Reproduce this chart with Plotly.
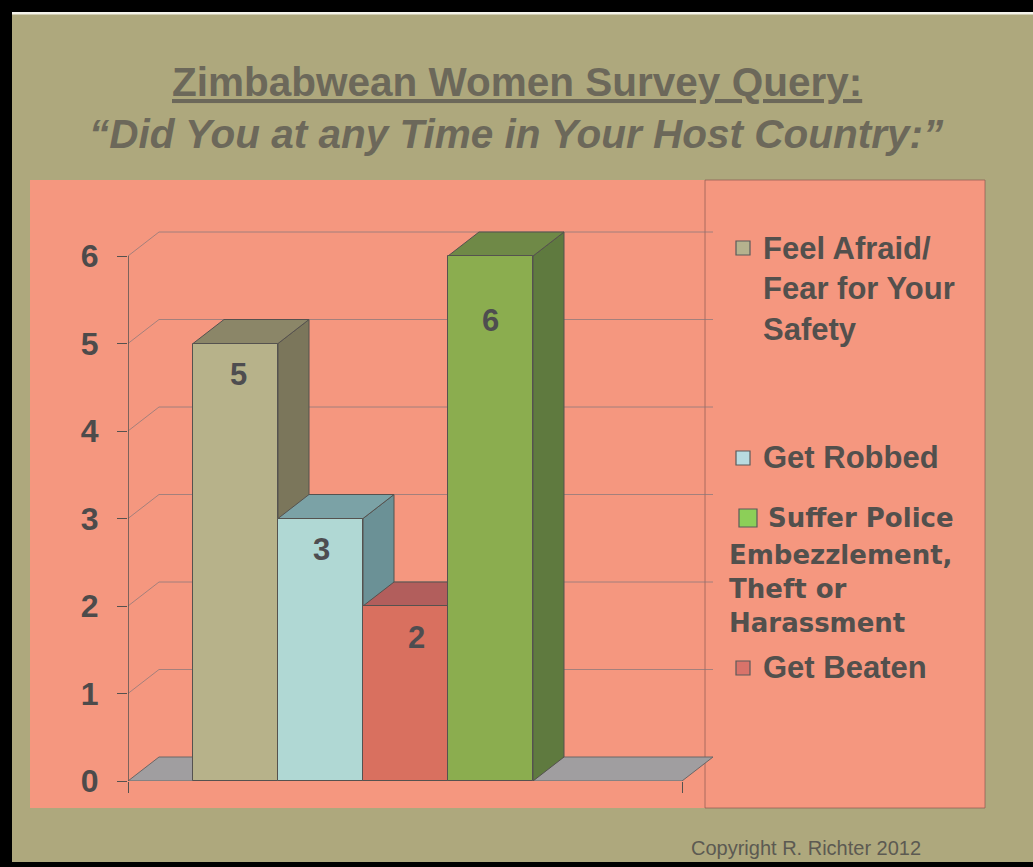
import plotly.graph_objects as go

# ---------------- data ----------------
CATEGORIES = ["Feel Afraid/ Fear for Your Safety", "Get Robbed", "Get Beaten",
              "Suffer Police Embezzlement, Theft or Harassment"]
VALUES = [5, 3, 2, 6]
Y_TICKS = [0, 1, 2, 3, 4, 5, 6]
TITLE = "Zimbabwean Women Survey Query:"
SUBTITLE = "\u201cDid You at any Time in Your Host Country:\u201d"
COPYRIGHT = "Copyright R. Richter 2012"
LEGEND_TEXT = {
    "Feel Afraid/ Fear for Your Safety": "Feel Afraid/<br>Fear for Your<br>Safety",
    "Get Robbed": "Get Robbed",
    "Suffer Police Embezzlement, Theft or Harassment": ("Suffer Police", "Embezzlement,<br>Theft or<br>Harassment"),
    "Get Beaten": "Get Beaten",
}

# ---------------- styles ----------------
W, H = 1033, 867
OLIVE = "#aea87d"
SALMON = "#f5977f"
FRONT = ["#b7b28a", "#b0d8d4", "#d9705f", "#8bad4f"]
TOP = ["#8b8668", "#7ba2a6", "#b25e5c", "#6f8947"]
SIDE = ["#7b765b", "#6b9196", "#9c4f4c", "#5f7a3f"]
LEG_SQ = ["#b5b28e", "#b8dbe0", "#8ccf58", "#d9736a"]
EDGE = "#55524f"
TXT = "#52504d"
FONT = "Liberation Sans"

# pixel geometry of the chart frame
BAR0_PX, BAR_PX = 235.5, 85.0      # centre of first bar, bar width
Y0_PX, UY_PX = 781.0, 87.5         # pixel of value 0, pixels per unit
AXIS_PX, FLOOR_END_PX = 128.0, 682.0
DX = 31 / BAR_PX                   # depth offset (x units)
DY = 24 / UY_PX                    # depth offset (y units)
X_MIN = (AXIS_PX - BAR0_PX) / BAR_PX
X_FLOOR = (FLOOR_END_PX - BAR0_PX) / BAR_PX
X_MAX = X_FLOOR + DX
Y_MAX = 6.4


def px(x, y):
    return x / W, 1 - y / H


def poly(pts):
    return "M " + " L ".join(f"{a},{b}" for a, b in pts) + " Z"


fig = go.Figure()

xs = list(range(len(VALUES)))
fig.add_trace(go.Bar(
    x=xs, y=VALUES, width=1, name="",
    marker=dict(color=FRONT, line=dict(color=EDGE, width=1)),
    hovertext=CATEGORIES, hoverinfo="text+y", showlegend=False,
))

shapes = []
# paper decorations
shapes.append(dict(type="rect", xref="paper", yref="paper", layer="below",
                   x0=px(30, 0)[0], x1=px(985, 0)[0], y0=px(0, 808)[1], y1=px(0, 180)[1],
                   fillcolor=SALMON, line=dict(width=0)))
shapes.append(dict(type="rect", xref="paper", yref="paper", layer="below",
                   x0=px(705, 0)[0], x1=px(985, 0)[0], y0=px(0, 808)[1], y1=px(0, 180)[1],
                   fillcolor=SALMON, line=dict(width=1, color="rgba(140,90,80,0.7)")))
for x0, y0, x1, y1, c in [(0, 0, 1033, 12, "black"), (0, 0, 12, 867, "black"),
                          (0, 862, 1033, 867, "black"), (12, 12, 1033, 14.5, "#f4f2ea")]:
    a, b = px(x0, y0)
    c2, d = px(x1, y1)
    shapes.append(dict(type="rect", xref="paper", yref="paper", layer="above",
                       x0=a, x1=c2, y0=d, y1=b, fillcolor=c, line=dict(width=0)))

# floor
shapes.append(dict(type="path", xref="x", yref="y", layer="below",
                   path=poly([(X_MIN, 0), (X_MIN + DX, DY), (X_MAX, DY), (X_FLOOR, 0)]),
                   fillcolor="#a09ea0", line=dict(color="#6a6666", width=1)))
# back-wall gridlines
GRID = "rgba(130,118,122,0.7)"
for k in Y_TICKS[1:]:
    shapes.append(dict(type="line", xref="x", yref="y", layer="below",
                       x0=X_MIN, y0=k, x1=X_MIN + DX, y1=k + DY,
                       line=dict(color=GRID, width=1)))
    shapes.append(dict(type="line", xref="x", yref="y", layer="below",
                       x0=X_MIN + DX, y0=k + DY, x1=X_MAX, y1=k + DY,
                       line=dict(color=GRID, width=1)))
# y axis line from 0 to top tick
shapes.append(dict(type="line", xref="x", yref="y", layer="above",
                   x0=X_MIN, x1=X_MIN, y0=0, y1=Y_TICKS[-1],
                   line=dict(color=EDGE, width=1.5)))
# 3D faces of bars
for i, v in enumerate(VALUES):
    l, r = i - 0.5, i + 0.5
    shapes.append(dict(type="path", xref="x", yref="y", layer="below",
                       path=poly([(r, 0), (r + DX, DY), (r + DX, v + DY), (r, v)]),
                       fillcolor=SIDE[i], line=dict(color=EDGE, width=1)))
    shapes.append(dict(type="path", xref="x", yref="y", layer="below",
                       path=poly([(l, v), (r, v), (r + DX, v + DY), (l + DX, v + DY)]),
                       fillcolor=TOP[i], line=dict(color=EDGE, width=1)))

# legend squares
leg_sq = [(743, 248, 7), (743, 458, 7), (748, 518, 9), (743, 668, 7)]
for (cx, cy, h), col in zip(leg_sq, LEG_SQ):
    a, b = px(cx - h, cy - h)
    c2, d = px(cx + h, cy + h)
    shapes.append(dict(type="rect", xref="paper", yref="paper", layer="above",
                       x0=a, x1=c2, y0=d, y1=b, fillcolor=col,
                       line=dict(color="#5a5a5a", width=1.2)))

ann = []


def ptext(text, x, y, size, xanchor="left", yanchor="middle", family=FONT,
          weight="bold", style="normal", color=TXT, **kw):
    a, b = px(x, y)
    ann.append(dict(text=text, x=a, y=b, xref="paper", yref="paper",
                    xanchor=xanchor, yanchor=yanchor, showarrow=False, align="left",
                    font=dict(family=family, size=size, weight=weight, style=style,
                              color=color, **kw)))


ptext(TITLE, 516.5, 82, 40.5, xanchor="center", color="#6c685a", lineposition="under")
ptext(SUBTITLE, 516.5, 134, 40.5, xanchor="center", style="italic", color="#6c685a")

order = list(LEGEND_TEXT.keys())
ptext(LEGEND_TEXT[order[0]], 761, 229, 31, yanchor="top")
ptext(LEGEND_TEXT[order[1]], 761, 457, 31)
ptext(LEGEND_TEXT[order[2]][0], 766, 518, 26, family="DejaVu Sans")
ptext(LEGEND_TEXT[order[2]][1], 727, 538, 26, yanchor="top", family="DejaVu Sans")
ptext(LEGEND_TEXT[order[3]], 761, 667, 31)

ptext(COPYRIGHT, 923, 848, 20, xanchor="right", weight="normal", color="#5c5a52")

# value labels on bars
LABEL_SHIFT = [(3, -31), (1, -31), (11, -31), (0, -64)]
for i, v in enumerate(VALUES):
    ann.append(dict(text=str(v), x=i, y=v, xref="x", yref="y", showarrow=False,
                    xshift=LABEL_SHIFT[i][0], yshift=LABEL_SHIFT[i][1],
                    font=dict(family=FONT, size=31, weight="bold", color="#4e4d50")))

fig.update_layout(
    width=W, height=H, margin=dict(l=0, r=0, t=0, b=0, pad=0, autoexpand=False),
    paper_bgcolor=OLIVE, plot_bgcolor="rgba(0,0,0,0)",
    shapes=shapes, annotations=ann, showlegend=False, bargap=0,
    xaxis=dict(range=[X_MIN, X_MAX], automargin=False,
               domain=[(BAR0_PX + X_MIN * BAR_PX) / W, (BAR0_PX + X_MAX * BAR_PX) / W],
               showgrid=False, zeroline=False, showline=False, showticklabels=False,
               tickmode="array", tickvals=[X_MIN, X_FLOOR], ticks="outside",
               ticklen=11, tickcolor=EDGE, tickwidth=1.2),
    yaxis=dict(range=[0, Y_MAX], automargin=False,
               domain=[1 - Y0_PX / H, 1 - (Y0_PX - Y_MAX * UY_PX) / H],
               showgrid=False, zeroline=False, showline=False,
               tickmode="array", tickvals=Y_TICKS, ticks="outside", ticklen=10,
               tickcolor=EDGE, tickwidth=1.2, ticklabelstandoff=12,
               tickfont=dict(family=FONT, size=32, weight="bold", color="#4d4b4b")),
)

fig.write_html("out.html", config={"displayModeBar": False},
               post_script="document.body.style.margin='0';document.body.style.overflow='hidden';")
